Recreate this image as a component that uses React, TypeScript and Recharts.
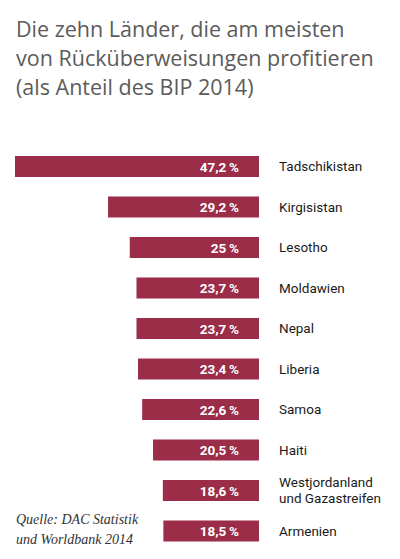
import { Bar, BarChart, LabelList, XAxis, YAxis } from "recharts";

const countries = [
  "Tadschikistan",
  "Kirgisistan",
  "Lesotho",
  "Moldawien",
  "Nepal",
  "Liberia",
  "Samoa",
  "Haiti",
  "Westjordanland\nund Gazastreifen",
  "Armenien",
];
const shares = [47.2, 29.2, 25, 23.7, 23.7, 23.4, 22.6, 20.5, 18.6, 18.5];

const titleLines = [
  "Die zehn Länder, die am meisten",
  "von Rücküberweisungen profitieren",
  "(als Anteil des BIP 2014)",
];
const sourceLines = ["Quelle: DAC Statistik", "und Worldbank 2014"];

const data = countries.map((country, i) => ({ country, share: shares[i] }));

const BAR = "#9b2d48";
const sans = "Roboto, 'Noto Sans', sans-serif";

const fmt = (v: number) => `${String(v).replace(".", ",")}\u2009%`;

function CountryTick(props: any) {
  const { x, y, payload } = props;
  const lines = String(payload.value).split("\n");
  const start = y - ((lines.length - 1) * 16) / 2;
  return (
    <text x={x + 20} y={start} fill="#1a1a1a" fontSize={13.5} fontFamily={sans} dominantBaseline="central">
      {lines.map((l, i) => (
        <tspan key={i} x={x + 20} y={start + i * 16}>
          {l}
        </tspan>
      ))}
    </text>
  );
}

function ValueLabel(props: any) {
  const box = props.viewBox && props.viewBox.width != null ? props.viewBox : props;
  const { x, y, width, height } = box;
  const right = Math.max(Number(x), Number(x) + Number(width));
  return (
    <text
      x={right - 20}
      y={Number(y) + Number(height) / 2}
      fill="#fff"
      fontSize={13.5}
      fontWeight={700}
      fontFamily={sans}
      textAnchor="end"
      dominantBaseline="central"
    >
      {fmt(props.value)}
    </text>
  );
}

export default function App() {
  return (
    <div style={{ position: "absolute", left: 0, top: 0, width: 400, height: 559, background: "#fff" }}>
      <div
        style={{
          position: "absolute",
          left: 16,
          top: 14,
          fontFamily: "'Open Sans', sans-serif",
          fontSize: 21.5,
          lineHeight: "29px",
          color: "#5b5b5b",
          whiteSpace: "nowrap",
        }}
      >
        {titleLines.map((l) => (
          <div key={l}>{l}</div>
        ))}
      </div>
      <BarChart
        width={400}
        height={559}
        data={data}
        layout="vertical"
        margin={{ top: 146, right: 0, bottom: 8, left: 15 }}
        barSize={21}
        style={{ position: "absolute", left: 0, top: 0 }}
      >
        <XAxis type="number" hide reversed domain={[0, "dataMax"]} />
        <YAxis
          type="category"
          dataKey="country"
          orientation="right"
          width={141}
          axisLine={false}
          tickLine={false}
          tickSize={0}
          tickMargin={0}
          tick={<CountryTick />}
          interval={0}
        />
        <Bar dataKey="share" fill={BAR} isAnimationActive={false}>
          <LabelList dataKey="share" content={<ValueLabel />} />
        </Bar>
      </BarChart>
      <div
        style={{
          position: "absolute",
          left: 16,
          top: 510,
          fontFamily: "'Liberation Serif', serif",
          fontStyle: "italic",
          fontSize: 14,
          lineHeight: "20px",
          color: "#333",
        }}
      >
        {sourceLines.map((l) => (
          <div key={l}>{l}</div>
        ))}
      </div>
    </div>
  );
}
